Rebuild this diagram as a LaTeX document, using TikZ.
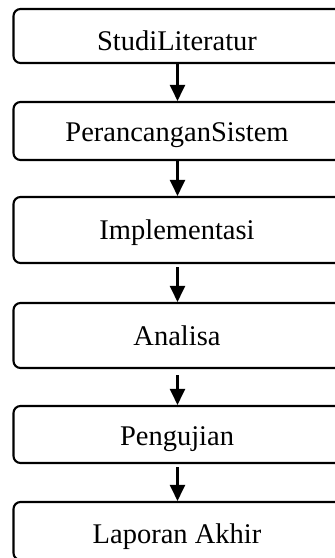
\documentclass[tikz,border=0pt]{standalone}
\usepackage{fontspec}
\setmainfont{Liberation Serif}
\usetikzlibrary{arrows.meta}
\tikzset{
  stepbox/.style={draw, line width=2.1pt, rounded corners=7pt, minimum width=328pt, inner sep=0pt},
  steptext/.style={anchor=base, inner sep=0pt, font=\fontsize{28.5}{32}\selectfont},
  flow/.style={line width=2.1pt, -{Triangle[length=16pt,width=15pt]}}
}
\begin{document}
\begin{tikzpicture}[x=1pt,y=-1pt]
\useasboundingbox (0,0) rectangle (335,558);
\clip (0,0) rectangle (335,558);
\node[stepbox, minimum height=54pt] (b1) at (177.5,36) {};
\node[stepbox, minimum height=58pt] (b2) at (177.5,131) {};
\node[stepbox, minimum height=66pt] (b3) at (177.5,230) {};
\node[stepbox, minimum height=65pt] (b4) at (177.5,335.5) {};
\node[stepbox, minimum height=57pt] (b5) at (177.5,434.5) {};
\node[stepbox, minimum height=58pt] (b6) at (177.5,531) {};
\node[steptext] (t1) at (177,50) {StudiLiteratur};
\node[steptext] (t2) at (177,141.7) {PerancanganSistem};
\node[steptext] (t3) at (177,239) {Implementasi};
\node[steptext] (t4) at (177,345) {Analisa};
\node[steptext] (t5) at (177,445) {Pengujian};
\node[steptext] (t6) at (177,543) {Laporan Akhir};
\draw[flow] (b1.south) -- (b2.north);
\draw[flow] (b2.south) -- (b3.north);
\draw[flow] ([yshift=-3pt]b3.south) -- (b4.north);
\draw[flow] ([yshift=-6pt]b4.south) -- (b5.north);
\draw[flow] ([yshift=-3pt]b5.south) -- (b6.north);
\end{tikzpicture}
\end{document}
